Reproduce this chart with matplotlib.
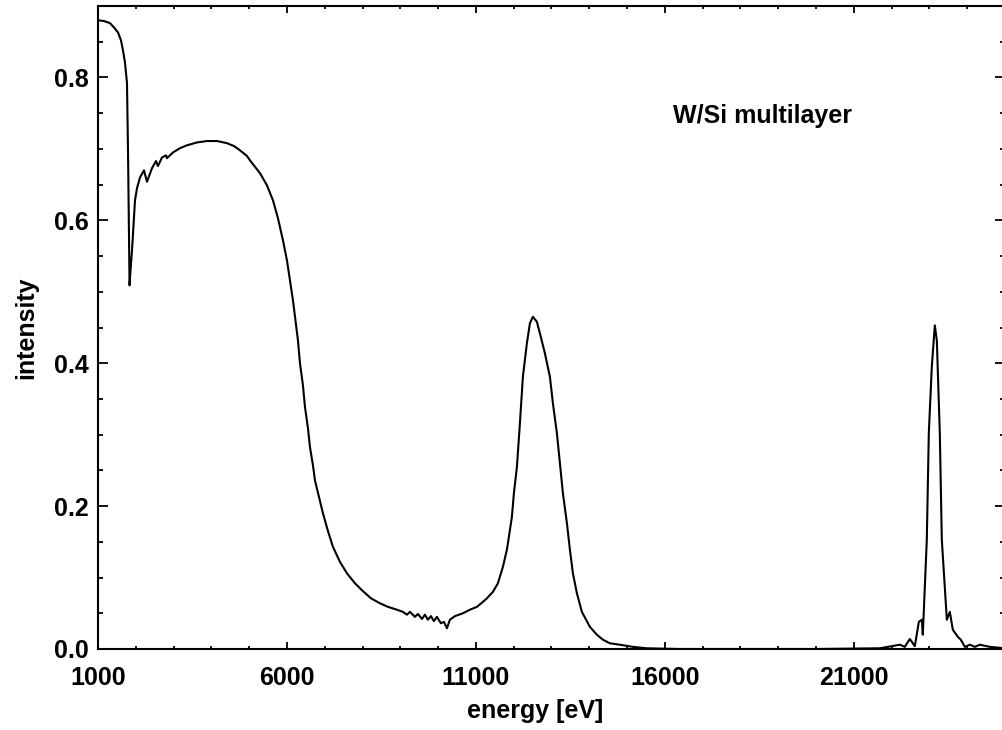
import numpy as np
import matplotlib
matplotlib.use("Agg")
import matplotlib.pyplot as plt
from matplotlib.ticker import MultipleLocator

# reflectivity curve (energy in eV, intensity)
energy = [
    1000, 1159, 1317, 1423, 1529, 1608, 1661, 1714, 1767, 1794,
    1820, 1835, 1860, 1900, 1979, 2032, 2111, 2217, 2296, 2429,
    2534, 2587, 2693, 2799, 2825, 2984, 3169, 3354, 3619, 3884,
    4148, 4413, 4598, 4757, 4942, 5021, 5286, 5471, 5630, 5762,
    5894, 6000, 6079, 6159, 6212, 6291, 6344, 6423, 6476, 6556,
    6608, 6688, 6741, 6847, 6952, 7085, 7217, 7402, 7587, 7799,
    8010, 8222, 8460, 8672, 8910,
    9069, 9175, 9254, 9386, 9466, 9571, 9651, 9730, 9809, 9889,
    9968, 10074, 10153, 10233, 10312, 10444, 10656, 10841, 11027, 11185,
    11291, 11450, 11582, 11714, 11820, 11873, 11952, 12005, 12085, 12164,
    12243, 12349, 12429, 12508, 12614, 12693, 12825, 12958, 13037, 13143,
    13222, 13302, 13408, 13487, 13566, 13672, 13804, 14016, 14201, 14360,
    14545, 14810, 15154, 15524, 16397, 18000, 20000, 21688,
    22217, 22349, 22481, 22614, 22720, 22799, 22825, 22931, 22984, 23063,
    23143, 23196, 23275, 23328, 23461, 23540, 23619, 23752, 23831, 23937,
    24070, 24201, 24333, 24598, 25000,
]
intensity = [
    0.880, 0.879, 0.876, 0.870, 0.863, 0.852, 0.838, 0.821, 0.792, 0.698,
    0.582, 0.509, 0.530, 0.558, 0.628, 0.645, 0.660, 0.670, 0.654, 0.673,
    0.683, 0.676, 0.688, 0.691, 0.687, 0.695, 0.701, 0.705, 0.709, 0.711,
    0.711, 0.708, 0.704, 0.698, 0.690, 0.684, 0.666, 0.649, 0.628, 0.603,
    0.572, 0.544, 0.516, 0.488, 0.465, 0.432, 0.400, 0.369, 0.339, 0.309,
    0.283, 0.257, 0.236, 0.213, 0.190, 0.165, 0.143, 0.122, 0.106, 0.092,
    0.081, 0.071, 0.064, 0.059, 0.055,
    0.052, 0.048, 0.052, 0.045, 0.049, 0.042, 0.048, 0.041, 0.046, 0.039,
    0.045, 0.036, 0.038, 0.029, 0.041, 0.046, 0.050, 0.055, 0.059, 0.066,
    0.071, 0.080, 0.092, 0.115, 0.139, 0.157, 0.185, 0.218, 0.255, 0.316,
    0.381, 0.428, 0.456, 0.465, 0.458, 0.442, 0.414, 0.381, 0.344, 0.302,
    0.260, 0.218, 0.176, 0.139, 0.106, 0.078, 0.052, 0.031, 0.020, 0.013,
    0.008, 0.006, 0.003, 0.001, 0.0, 0.0, 0.0, 0.001,
    0.006, 0.003, 0.014, 0.004, 0.038, 0.041, 0.020, 0.153, 0.302, 0.395,
    0.453, 0.432, 0.302, 0.153, 0.041, 0.052, 0.027, 0.017, 0.013, 0.003,
    0.006, 0.003, 0.006, 0.003, 0.001,
]

x_major = [1000, 6000, 11000, 16000, 21000]
y_major = [0.0, 0.2, 0.4, 0.6, 0.8]

plt.rcParams["font.family"] = ["Liberation Sans", "DejaVu Sans"]
plt.rcParams["font.weight"] = "bold"

fig = plt.figure(figsize=(10.03, 7.30), dpi=100)
ax = fig.add_axes([98/1003, 81/730, 907/1003, 643/730])

ax.plot(energy, intensity, color="black", lw=1.5)

ax.set_xlim(1000, 25000)
ax.set_ylim(0, 0.9)
ax.set_xticks(x_major)
ax.set_xticklabels([str(v) for v in x_major])
ax.set_yticks(y_major)
ax.set_yticklabels(["%.1f" % v for v in y_major])
ax.xaxis.set_minor_locator(MultipleLocator(1000))
ax.yaxis.set_minor_locator(MultipleLocator(0.05))

for s in ax.spines.values():
    s.set_linewidth(1.5)

ax.tick_params(axis="x", which="both", direction="in", top=True, width=1.3,
               labelsize=18, pad=12)
ax.tick_params(axis="x", which="major", length=5)
ax.tick_params(axis="x", which="minor", length=2.5)
ax.tick_params(axis="y", which="both", direction="in", right=True, width=1.3,
               labelsize=18, pad=7)
ax.tick_params(axis="y", which="major", length=7.2)
ax.tick_params(axis="y", which="minor", length=3.6)

ax.set_xlabel("energy [eV]", fontsize=18, fontweight="bold")
ax.xaxis.set_label_coords(0.482, -0.077)
ax.set_ylabel("intensity", fontsize=18, fontweight="bold")
ax.yaxis.set_label_coords(-0.066, 0.5)

ax.text(16212, 0.736, "W/Si multilayer", fontsize=18, fontweight="bold",
        ha="left", va="baseline")

fig.savefig("out.png", dpi=100)
